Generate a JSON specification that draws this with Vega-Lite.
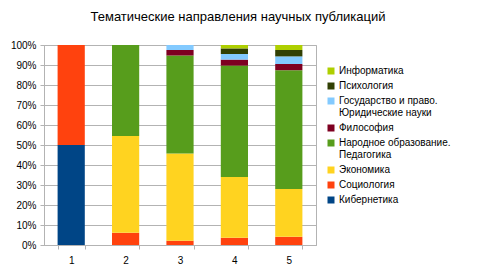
{
  "$schema": "https://vega.github.io/schema/vega-lite/v6.json",
  "autosize": {"type": "none"},
  "padding": {"left": 44, "top": 45, "right": 164, "bottom": 25},
  "width": 272,
  "height": 200,
  "background": "white",
  "title": {
    "text": "Тематические направления научных публикаций",
    "font": "Liberation Sans",
    "fontSize": 13,
    "fontWeight": "normal",
    "color": "#000000",
    "anchor": "middle",
    "dx": 58,
    "offset": 16
  },
  "config": {
    "view": {"stroke": "#b3b3b3", "strokeWidth": 1},
    "axis": {
      "labelFont": "Liberation Sans",
      "labelFontSize": 10,
      "labelColor": "#000000",
      "domainColor": "#b3b3b3",
      "tickColor": "#b3b3b3",
      "gridColor": "#b3b3b3",
      "tickSize": 4,
      "title": null
    },
    "legend": {
      "labelFont": "Liberation Sans",
      "labelFontSize": 10,
      "labelColor": "#000000",
      "labelLimit": 300
    }
  },
  "data": {
    "values": [
      {"g": "1", "t": "Кибернетика", "o": 1, "v": 50},
      {"g": "1", "t": "Социология", "o": 2, "v": 50},
      {"g": "2", "t": "Социология", "o": 2, "v": 6.1},
      {"g": "2", "t": "Экономика", "o": 3, "v": 48.4},
      {"g": "2", "t": "Народное образование.\nПедагогика", "o": 4, "v": 45.5},
      {"g": "3", "t": "Социология", "o": 2, "v": 2.1},
      {"g": "3", "t": "Экономика", "o": 3, "v": 43.7},
      {"g": "3", "t": "Народное образование.\nПедагогика", "o": 4, "v": 48.9},
      {"g": "3", "t": "Философия", "o": 5, "v": 2.8},
      {"g": "3", "t": "Государство и право.\nЮридические науки", "o": 6, "v": 2.5},
      {"g": "4", "t": "Социология", "o": 2, "v": 3.6},
      {"g": "4", "t": "Экономика", "o": 3, "v": 30.4},
      {"g": "4", "t": "Народное образование.\nПедагогика", "o": 4, "v": 55.7},
      {"g": "4", "t": "Философия", "o": 5, "v": 3.0},
      {"g": "4", "t": "Государство и право.\nЮридические науки", "o": 6, "v": 2.8},
      {"g": "4", "t": "Психология", "o": 7, "v": 2.8},
      {"g": "4", "t": "Информатика", "o": 8, "v": 1.7},
      {"g": "5", "t": "Социология", "o": 2, "v": 4.1},
      {"g": "5", "t": "Экономика", "o": 3, "v": 23.9},
      {"g": "5", "t": "Народное образование.\nПедагогика", "o": 4, "v": 59.4},
      {"g": "5", "t": "Философия", "o": 5, "v": 3.1},
      {"g": "5", "t": "Государство и право.\nЮридические науки", "o": 6, "v": 3.8},
      {"g": "5", "t": "Психология", "o": 7, "v": 3.2},
      {"g": "5", "t": "Информатика", "o": 8, "v": 2.5}
    ]
  },
  "mark": {"type": "bar"},
  "encoding": {
    "x": {
      "field": "g",
      "type": "ordinal",
      "scale": {"paddingInner": 0.5, "paddingOuter": 0.25},
      "axis": {"labelAngle": 0, "tickBand": "extent", "labelPadding": 6, "grid": false}
    },
    "y": {
      "field": "v",
      "type": "quantitative",
      "stack": "normalize",
      "scale": {"domain": [0, 1]},
      "axis": {"format": "%", "values": [0, 0.1, 0.2, 0.3, 0.4, 0.5, 0.6, 0.7, 0.8, 0.9, 1], "labelPadding": 4, "grid": true}
    },
    "order": {"field": "o", "type": "quantitative", "sort": "ascending"},
    "color": {
      "field": "t",
      "type": "nominal",
      "scale": {
        "domain": ["Информатика", "Психология", "Государство и право.\nЮридические науки", "Философия", "Народное образование.\nПедагогика", "Экономика", "Социология", "Кибернетика"],
        "range": ["#aecf00", "#314004", "#83caff", "#7e0021", "#579d1c", "#ffd320", "#ff420e", "#004586"]
      },
      "legend": {
        "title": null,
        "orient": "none",
        "legendX": 282,
        "legendY": 21,
        "symbolType": "square",
        "symbolSize": 49,
        "symbolStrokeWidth": 0,
        "labelOffset": 3,
        "rowPadding": 5,
        "labelExpr": "split(datum.label, '\\n')"
      }
    }
  }
}
